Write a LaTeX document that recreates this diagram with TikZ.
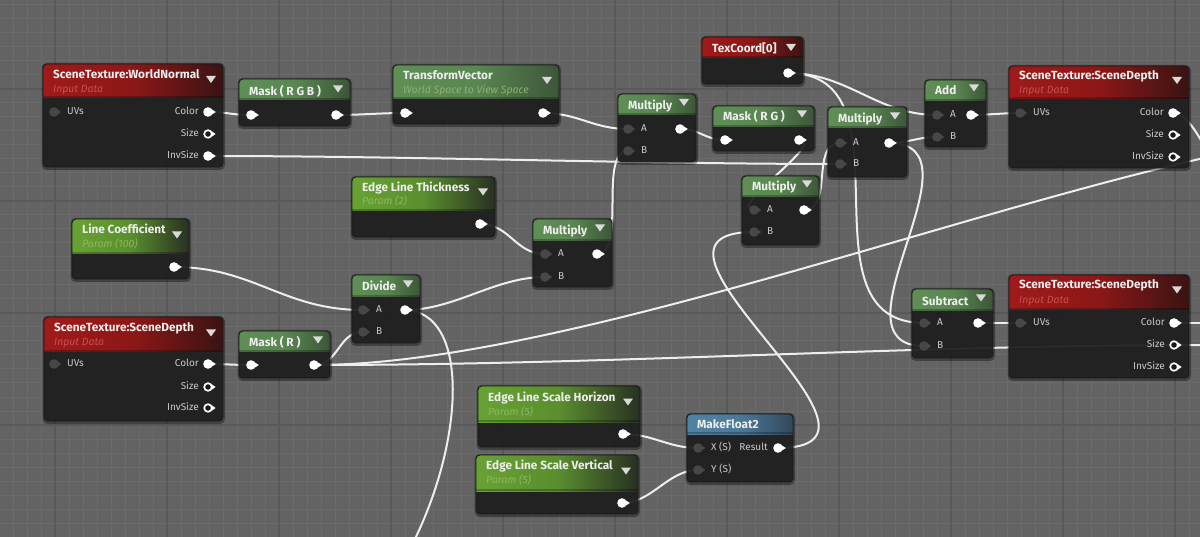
\documentclass[tikz,border=0pt]{standalone}
\usepackage{fontspec}
\setmainfont{Fira Sans}
\definecolor{bgc}{HTML}{636363}
\definecolor{gmin}{HTML}{6B6B6B}
\definecolor{gmaj}{HTML}{595959}
\definecolor{bodyc}{HTML}{1E1F1E}
\definecolor{red-l}{HTML}{A01A1A}\definecolor{red-m}{HTML}{8C1717}\definecolor{red-r}{HTML}{3A1313}
\definecolor{green-l}{HTML}{5F8E56}\definecolor{green-m}{HTML}{5A8652}\definecolor{green-r}{HTML}{3C5638}
\definecolor{param-l}{HTML}{68A233}\definecolor{param-m}{HTML}{5A8E2E}\definecolor{param-r}{HTML}{283022}
\definecolor{blue-l}{HTML}{5182A4}\definecolor{blue-m}{HTML}{4B7897}\definecolor{blue-r}{HTML}{33485A}
\definecolor{titlec}{HTML}{EEEEEE}
\definecolor{labc}{HTML}{CACACA}
\definecolor{subred}{HTML}{C85050}
\definecolor{subgreen}{HTML}{8CB85E}
\definecolor{subtv}{HTML}{8DB070}
\definecolor{pingrey}{HTML}{474747}
\definecolor{wirec}{HTML}{EEEEEE}
\tikzset{
  wire/.style={wirec,line width=2pt},
  nodeborder/.style={draw=black!90,line width=0.8pt},
  ttl/.style={font=\bfseries\fontsize{11.8}{13}\selectfont,text=titlec,anchor=west,inner sep=0pt,text height=8.5pt,text depth=2pt},
  subttl/.style={font=\itshape\fontsize{10.5}{12}\selectfont,anchor=west,inner sep=0pt,text height=7.5pt,text depth=2pt},
  plab/.style={font=\fontsize{10}{11}\selectfont,text=labc,inner sep=0pt,text height=7pt,text depth=1.5pt},
  tric/.style={fill=white!85!black}
}
% body: id x1 y1 x2 y2 headerbottom headerkind
\newcommand{\uebody}[7]{%
  \xdef\ux{#2}\xdef\uxx{#4}%
  \fill[black,opacity=0.35,rounded corners=5pt] (#2-1.5,#3-1) rectangle (#4+2,#5+3);
  \begin{scope}
    \clip[rounded corners=4pt] (#2,#3) rectangle (#4,#5);
    \fill[bodyc,fill opacity=0.9] (#2,#3) rectangle (#4,#5);
    \shade[left color=#7-l,right color=#7-r,middle color=#7-m] (#2,#3) rectangle (#4,#6);
    \fill[black,opacity=0.25] (#2,#6-2) rectangle (#4,#6);
  \end{scope}
  \draw[nodeborder,rounded corners=4pt] (#2,#3) rectangle (#4,#5);
  \coordinate (#1) at (#2,#3);
}
\newcommand{\uetitle}[3]{\node[ttl] (#1-t) at (\ux+10,#2) {#3};}
\newcommand{\uesub}[4]{\node[subttl,text=#4] (#1-s) at (\ux+10,#2) {#3};}
\newcommand{\uetri}[1]{\fill[tric] (\uxx-17,#1-3.5) -- (\uxx-7,#1-3.5) -- (\uxx-12,#1+3.5) -- cycle;}
% pins
\newcommand{\pout}[1]{\fill[white,shift={(#1)}] (0,0) circle (4.8) (3.2,-3) -- (7.8,0) -- (3.2,3) -- cycle;}
\newcommand{\pring}[1]{\fill[white,shift={(#1)}] (3.6,-2.8) -- (7.6,0) -- (3.6,2.8) -- cycle; \draw[white,line width=1.7pt,fill=black!90] (#1) circle (3.8);}
\newcommand{\pin}[1]{\fill[pingrey,shift={(#1)}] (0,0) circle (4.8) (3.6,-2.6) -- (7.2,0) -- (3.6,2.6) -- cycle;}
\newcommand{\lin}[2]{\node[plab,anchor=west] (#1-l) at ([xshift=13pt]#1) {#2};}
\newcommand{\lout}[2]{\node[plab,anchor=east] (#1-l) at ([xshift=-9pt]#1) {#2};}
\newcommand{\wire}[4]{\draw[wire] (#1) .. controls +(#3,0) and +(-#4,0) .. (#2);}
\begin{document}
\begin{tikzpicture}[x=1pt,y=-1pt]
\useasboundingbox (0,0) rectangle (1200,537);
\clip (0,0) rectangle (1200,537);
\fill[bgc] (0,0) rectangle (1200,537);
\foreach \x in {13,27,...,1200} \draw[gmin,line width=1pt] (\x,0) -- (\x,537);
\foreach \y in {5,19,...,537} \draw[gmin,line width=1pt] (0,\y) -- (1200,\y);
\foreach \x in {55,167,...,1200} \draw[gmaj,line width=1.2pt] (\x,0) -- (\x,537);
\foreach \y in {89,201,313,425} \draw[gmaj,line width=1.2pt] (0,\y) -- (1200,\y);

% ---- pin coordinates
\coordinate (wn-uv) at (54,112);
\coordinate (wn-color) at (208,112);
\coordinate (wn-size) at (208,134);
\coordinate (wn-invsize) at (208,156);
\coordinate (mrgb-in) at (251,115);
\coordinate (mrgb-out) at (336,115);
\coordinate (tv-in) at (405,113);
\coordinate (tv-out) at (543,113);
\coordinate (m1-a) at (628,129);
\coordinate (m1-b) at (628,151);
\coordinate (m1-out) at (680,129);
\coordinate (tc-out) at (788,73);
\coordinate (mrg-in) at (725,140);
\coordinate (mrg-out) at (799,140);
\coordinate (m2-a) at (840,143);
\coordinate (m2-b) at (840,164);
\coordinate (m2-out) at (889,143);
\coordinate (add-a) at (937,115);
\coordinate (add-b) at (937,137);
\coordinate (add-out) at (971,115);
\coordinate (sd1-uv) at (1020,113);
\coordinate (sd1-color) at (1173,113);
\coordinate (sd1-size) at (1173,135);
\coordinate (sd1-invsize) at (1173,157);
\coordinate (m4-a) at (754,210);
\coordinate (m4-b) at (754,232);
\coordinate (m4-out) at (804,210);
\coordinate (elt-out) at (480,224);
\coordinate (lc-out) at (174,267);
\coordinate (m3-a) at (545,254);
\coordinate (m3-b) at (545,277);
\coordinate (m3-out) at (597,254);
\coordinate (dv-a) at (363,310);
\coordinate (dv-b) at (363,332);
\coordinate (dv-out) at (405,310);
\coordinate (sd2-uv) at (54,364);
\coordinate (sd2-color) at (208,364);
\coordinate (sd2-size) at (208,387);
\coordinate (sd2-invsize) at (208,408);
\coordinate (mr-in) at (251,365);
\coordinate (mr-out) at (314,365);
\coordinate (sb-a) at (924,323);
\coordinate (sb-b) at (924,346);
\coordinate (sb-out) at (978,323);
\coordinate (sd3-uv) at (1020,323);
\coordinate (sd3-color) at (1174,323);
\coordinate (sd3-size) at (1174,345);
\coordinate (sd3-invsize) at (1174,367);
\coordinate (elsh-out) at (623,434);
\coordinate (elsv-out) at (622,503);
\coordinate (mf-x) at (698,448);
\coordinate (mf-y) at (698,470);
\coordinate (mf-out) at (778,448);
\coordinate (offbottom) at (412,545);
\coordinate (offr1) at (1400,130);
\coordinate (offr2) at (1205,345);
\coordinate (offr3) at (1265,220);
\coordinate (offr4) at (1215,323);

% ---- wires
\wire{wn-color}{mrgb-in}{20}{20}
\wire{mrgb-out}{tv-in}{25}{25}
\wire{tv-out}{m1-a}{35}{35}
\wire{wn-invsize}{m2-b}{200}{200}
\wire{m1-out}{mrg-in}{20}{20}
\wire{mrg-out}{m4-a}{30}{30}
\wire{m4-out}{m2-a}{30}{30}
\wire{m3-out}{m1-b}{30}{30}
\wire{elt-out}{m3-a}{30}{30}
\wire{dv-out}{m3-b}{50}{50}
\draw[wire] (dv-out) .. controls +(65,2) and +(53,-105) .. (offbottom);
\wire{lc-out}{dv-a}{80}{80}
\wire{mr-out}{dv-b}{25}{25}
\wire{sd2-color}{mr-in}{20}{20}
\wire{mr-out}{offr2}{300}{300}
\wire{mr-out}{offr1}{300}{250}
\wire{sd1-color}{offr3}{30}{40}
\wire{sd3-color}{offr4}{10}{10}
\wire{sb-out}{sd3-uv}{15}{15}
\wire{add-out}{sd1-uv}{15}{15}
\wire{tc-out}{add-a}{60}{60}
\wire{tc-out}{sb-a}{130}{130}
\wire{m2-out}{add-b}{20}{20}
\wire{m2-out}{sb-b}{100}{100}
\wire{elsh-out}{mf-x}{30}{30}
\wire{elsv-out}{mf-y}{30}{30}
\wire{mf-out}{m4-b}{150}{150}

% ---- nodes
% SceneTexture:WorldNormal
\uebody{wn}{43}{64}{223}{167}{98}{red}
\uetitle{wn}{75}{SceneTexture:WorldNormal}
\uesub{wn}{90}{Input Data}{subred}
\uetri{79.5}
\pin{wn-uv}\lin{wn-uv}{UVs}
\pout{wn-color}\lout{wn-color}{Color}
\pring{wn-size}\lout{wn-size}{Size}
\pout{wn-invsize}\lout{wn-invsize}{InvSize}

% Mask (RGB)
\uebody{mrgb}{239}{79}{350}{126}{100}{green}
\uetitle{mrgb}{92}{Mask ( R G B )}
\uetri{89}
\pout{mrgb-in}\pout{mrgb-out}

% TransformVector
\uebody{tv}{393}{65}{559}{124}{99}{green}
\uetitle{tv}{76}{TransformVector}
\uesub{tv}{91}{World Space to View Space}{subtv}
\uetri{80.5}
\pout{tv-in}\pout{tv-out}

% Multiply 1
\uebody{m1}{618}{94}{696}{162}{115}{green}
\uetitle{m1}{106}{Multiply}
\uetri{102.5}
\pin{m1-a}\lin{m1-a}{A}
\pin{m1-b}\lin{m1-b}{B}
\pout{m1-out}

% TexCoord
\uebody{tc}{702}{37}{803}{84}{58}{red}
\uetitle{tc}{49}{TexCoord[0]}
\uetri{47.5}
\pout{tc-out}

% Mask (RG)
\uebody{mrg}{713}{106}{814}{151}{127}{green}
\uetitle{mrg}{117}{Mask ( R G )}
\uetri{114}
\pout{mrg-in}\pout{mrg-out}

% Multiply 2
\uebody{m2}{828}{107}{907}{177}{128}{green}
\uetitle{m2}{119}{Multiply}
\uetri{116}
\pin{m2-a}\lin{m2-a}{A}
\pin{m2-b}\lin{m2-b}{B}
\pout{m2-out}

% Add
\uebody{add}{925}{80}{986}{147}{101}{green}
\uetitle{add}{91}{Add}
\uetri{88}
\pin{add-a}\lin{add-a}{A}
\pin{add-b}\lin{add-b}{B}
\pout{add-out}

% SceneDepth 1
\uebody{sd1}{1009}{66}{1189}{168}{99}{red}
\uetitle{sd1}{76}{SceneTexture:SceneDepth}
\uesub{sd1}{91}{Input Data}{subred}
\uetri{80.5}
\pin{sd1-uv}\lin{sd1-uv}{UVs}
\pout{sd1-color}\lout{sd1-color}{Color}
\pring{sd1-size}\lout{sd1-size}{Size}
\pring{sd1-invsize}\lout{sd1-invsize}{InvSize}

% Multiply 4
\uebody{m4}{742}{176}{819}{245}{197}{green}
\uetitle{m4}{187}{Multiply}
\uetri{184}
\pin{m4-a}\lin{m4-a}{A}
\pin{m4-b}\lin{m4-b}{B}
\pout{m4-out}

% Edge Line Thickness
\uebody{elt}{352}{177}{495}{237}{211}{param}
\uetitle{elt}{188}{Edge Line Thickness}
\uesub{elt}{202}{Param (2)}{subgreen}
\uetri{192}
\pout{elt-out}

% Line Coefficient
\uebody{lc}{72}{219}{189}{279}{254}{param}
\uetitle{lc}{230}{Line Coefficient}
\uesub{lc}{245}{Param (100)}{subgreen}
\uetri{235}
\pout{lc-out}

% Multiply 3
\uebody{m3}{533}{219}{612}{287}{241}{green}
\uetitle{m3}{231}{Multiply}
\uetri{228}
\pin{m3-a}\lin{m3-a}{A}
\pin{m3-b}\lin{m3-b}{B}
\pout{m3-out}

% Divide
\uebody{dv}{352}{275}{420}{343}{297}{green}
\uetitle{dv}{287}{Divide}
\uetri{284}
\pin{dv-a}\lin{dv-a}{A}
\pin{dv-b}\lin{dv-b}{B}
\pout{dv-out}

% SceneDepth 2
\uebody{sd2}{44}{317}{223}{421}{352}{red}
\uetitle{sd2}{328}{SceneTexture:SceneDepth}
\uesub{sd2}{343}{Input Data}{subred}
\uetri{333}
\pin{sd2-uv}\lin{sd2-uv}{UVs}
\pout{sd2-color}\lout{sd2-color}{Color}
\pring{sd2-size}\lout{sd2-size}{Size}
\pring{sd2-invsize}\lout{sd2-invsize}{InvSize}

% Mask (R)
\uebody{mr}{239}{331}{330}{378}{352}{green}
\uetitle{mr}{343}{Mask ( R )}
\uetri{340}
\pout{mr-in}\pout{mr-out}

% Subtract
\uebody{sb}{912}{289}{993}{358}{311}{green}
\uetitle{sb}{302}{Subtract}
\uetri{298}
\pin{sb-a}\lin{sb-a}{A}
\pin{sb-b}\lin{sb-b}{B}
\pout{sb-out}

% SceneDepth 3
\uebody{sd3}{1009}{275}{1189}{378}{310}{red}
\uetitle{sd3}{285}{SceneTexture:SceneDepth}
\uesub{sd3}{301}{Input Data}{subred}
\uetri{290}
\pin{sd3-uv}\lin{sd3-uv}{UVs}
\pout{sd3-color}\lout{sd3-color}{Color}
\pring{sd3-size}\lout{sd3-size}{Size}
\pring{sd3-invsize}\lout{sd3-invsize}{InvSize}

% Edge Line Scale Horizon
\uebody{elsh}{478}{386}{640}{447}{422}{param}
\uetitle{elsh}{398}{Edge Line Scale Horizon}
\uesub{elsh}{413}{Param (5)}{subgreen}
\uetri{402}
\pout{elsh-out}

% Edge Line Scale Vertical
\uebody{elsv}{476}{455}{638}{514}{491}{param}
\uetitle{elsv}{466}{Edge Line Scale Vertical}
\uesub{elsv}{481}{Param (5)}{subgreen}
\uetri{471}
\pout{elsv-out}

% MakeFloat2
\uebody{mf}{687}{414}{793}{482}{434}{blue}
\uetitle{mf}{425}{MakeFloat2}
\pin{mf-x}\lin{mf-x}{X (S)}
\pin{mf-y}\lin{mf-y}{Y (S)}
\pout{mf-out}\node[plab,anchor=east] (mf-out-l) at ([xshift=-10pt]mf-out) {Result};
\end{tikzpicture}
\end{document}
